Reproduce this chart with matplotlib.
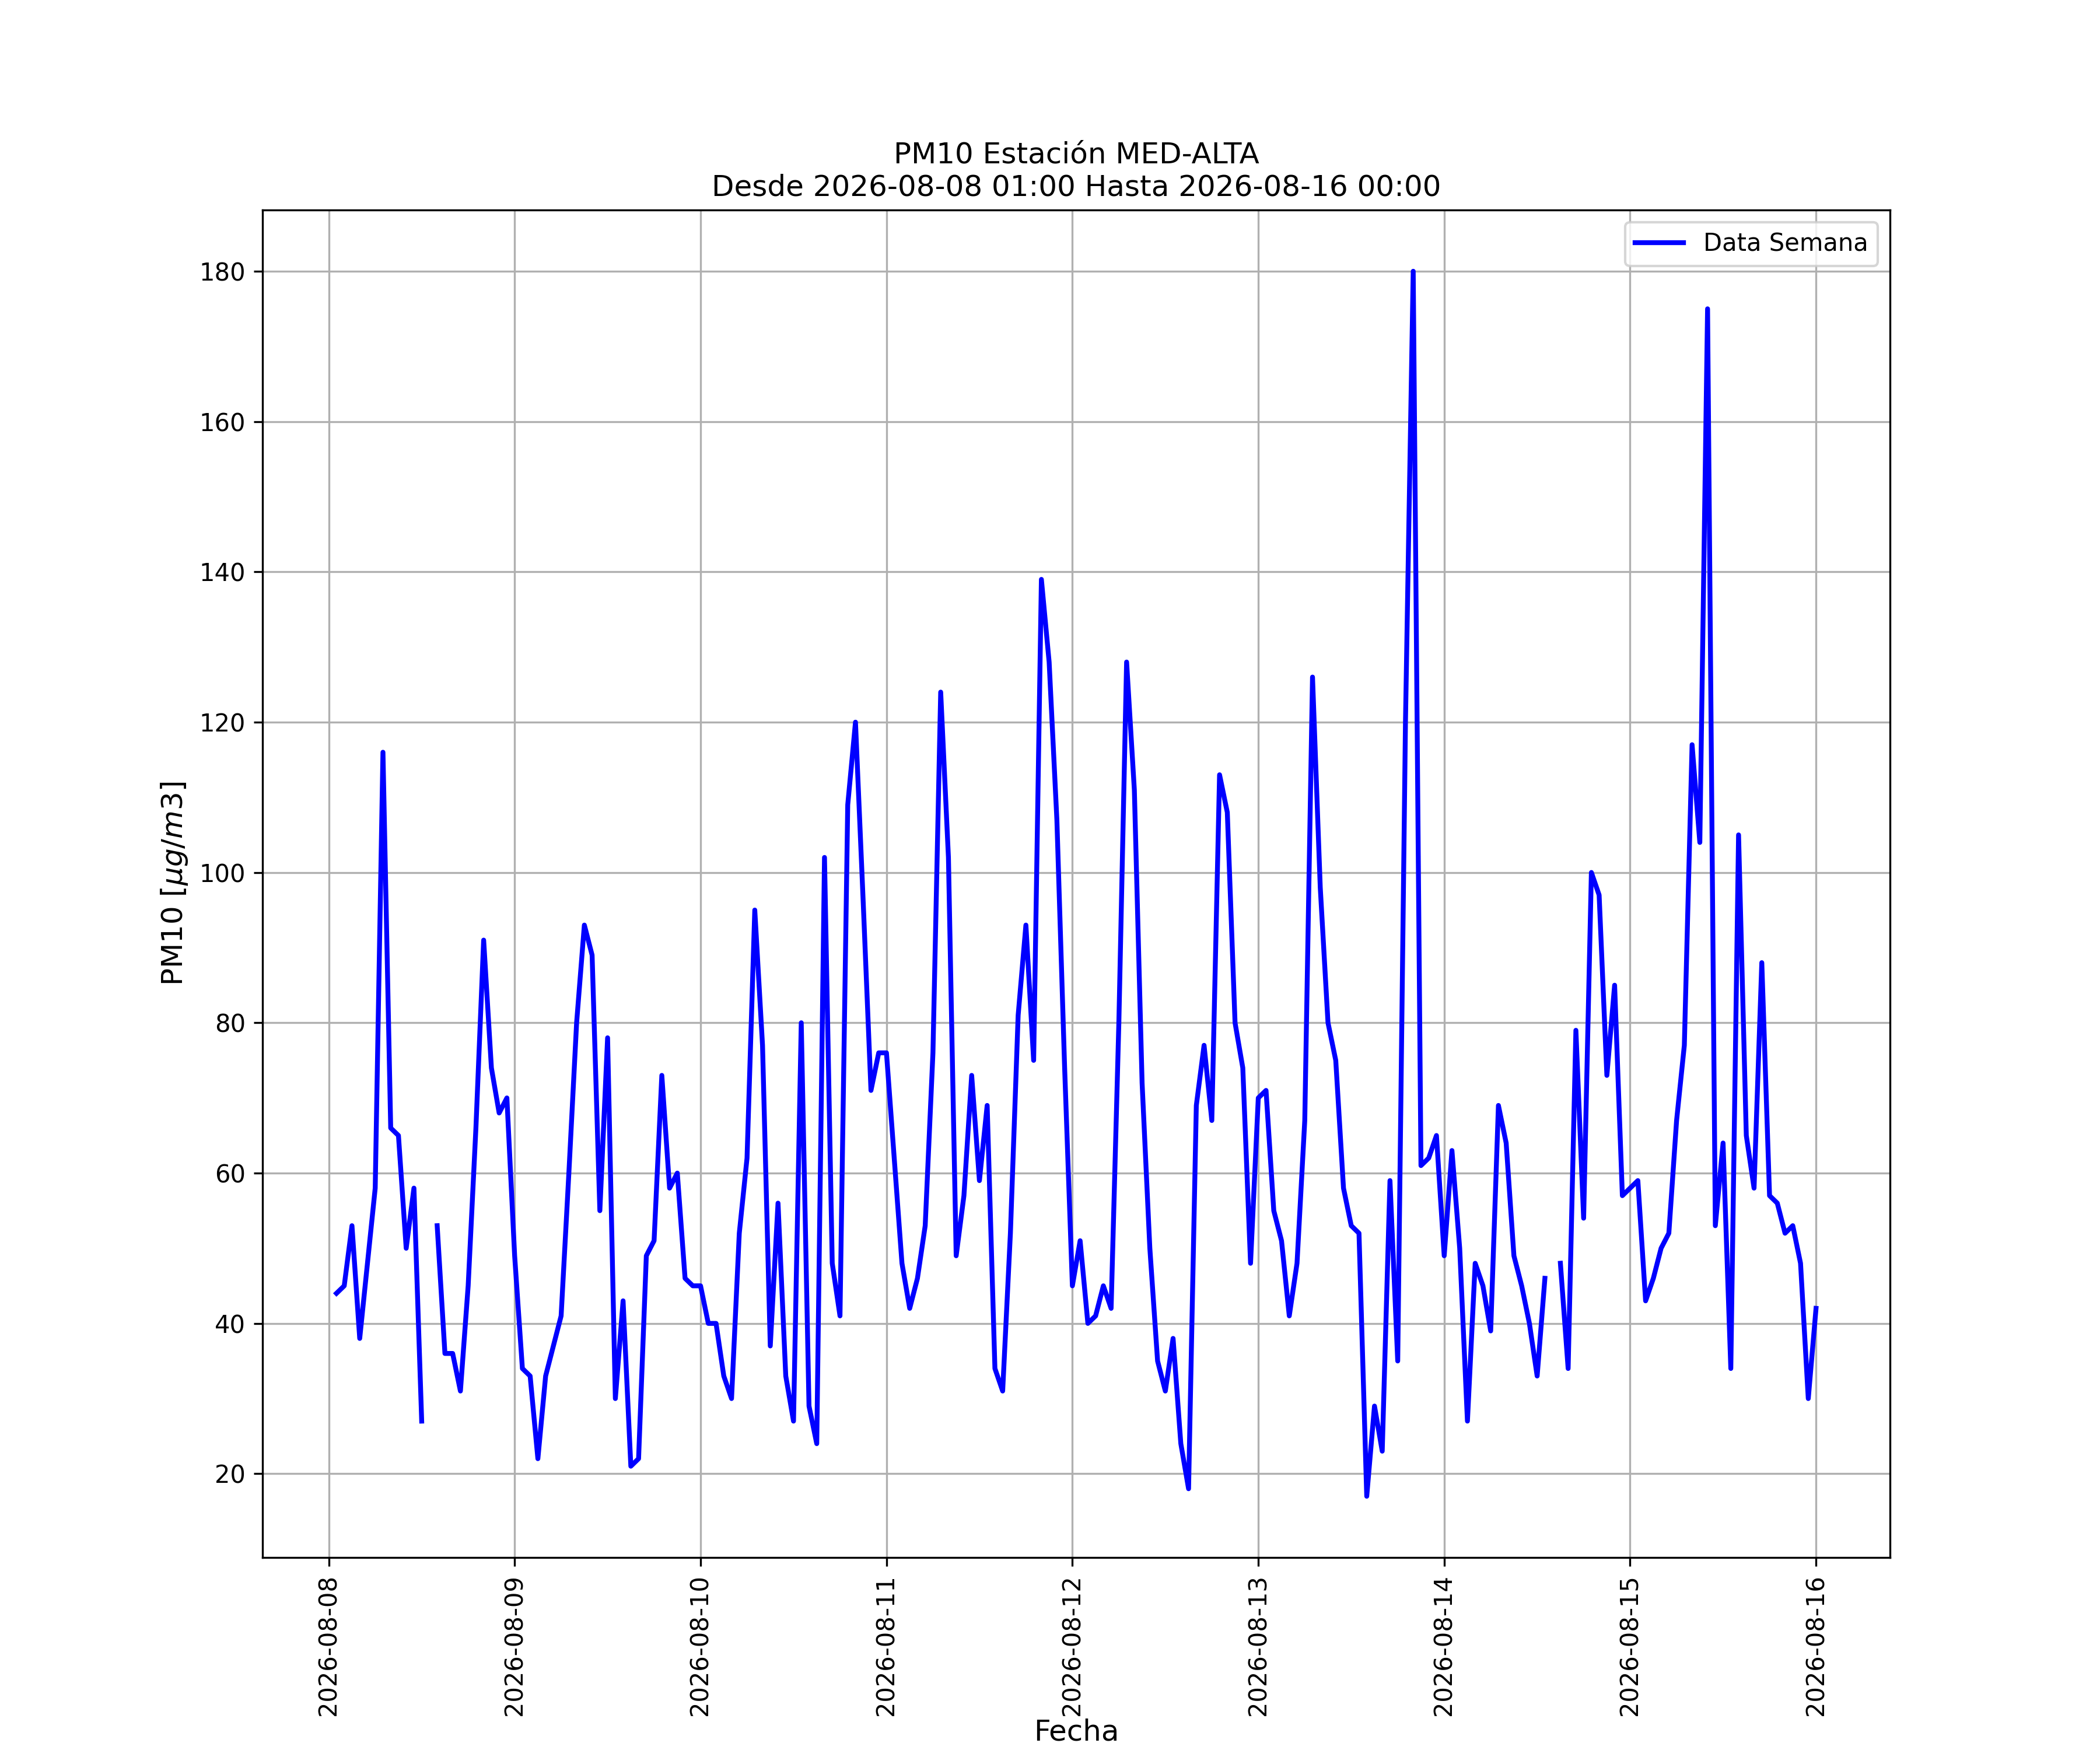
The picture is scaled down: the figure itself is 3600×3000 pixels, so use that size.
import matplotlib
matplotlib.use('Agg')
import matplotlib.pyplot as plt
import numpy as np
import pandas as pd

# Hourly PM10 values, 2026-08-08 01:00 .. 2026-08-16 00:00 (NaN = missing hour)
nan = np.nan
day_08 = [44, 45, 53, 38, 48, 58, 116, 66, 65, 50, 58, 27, nan, 53, 36, 36, 31, 45,
          66, 91, 74, 68, 70]  # starts at 01:00
day_09 = [49, 34, 33, 22, 33, 37, 41, 60, 80, 93, 89, 55, 78, 30, 43, 21, 22, 49,
          51, 73, 58, 60, 46, 45]
day_10 = [45, 40, 40, 33, 30, 52, 62, 95, 77, 37, 56, 33, 27, 80, 29, 24, 102, 48,
          41, 109, 120, 96, 71, 76]
day_11 = [76, 62, 48, 42, 46, 53, 76, 124, 102, 49, 57, 73, 59, 69, 34, 31, 52, 81,
          93, 75, 139, 128, 107, 74]
day_12 = [45, 51, 40, 41, 45, 42, 80, 128, 111, 72, 50, 35, 31, 38, 24, 18, 69, 77,
          67, 113, 108, 80, 74, 48]
day_13 = [70, 71, 55, 51, 41, 48, 67, 126, 98, 80, 75, 58, 53, 52, 17, 29, 23, 59,
          35, 120, 180, 61, 62, 65]
day_14 = [49, 63, 50, 27, 48, 45, 39, 69, 64, 49, 45, 40, 33, 46, nan, 48, 34, 79,
          54, 100, 97, 73, 85, 57]
day_15 = [58, 59, 43, 46, 50, 52, 67, 77, 117, 104, 175, 53, 64, 34, 105, 65, 58, 88,
          57, 56, 52, 53, 48, 30]
day_16 = [42]  # 00:00

pm10 = day_08 + day_09 + day_10 + day_11 + day_12 + day_13 + day_14 + day_15 + day_16
fechas = pd.date_range('2026-08-08 01:00', '2026-08-16 00:00', freq='h')

fig = plt.figure(figsize=(12, 10))
ax = fig.add_subplot(111)

ax.plot(fechas, pm10, color='blue', linewidth=2, label='Data Semana')

ax.set_title('PM10 Estación MED-ALTA\nDesde 2026-08-08 01:00 Hasta 2026-08-16 00:00')
ax.set_xlabel('Fecha', fontsize=12, labelpad=1)  # keep inside the bottom edge
ax.set_ylabel(r'PM10 [$\mu g/m3$]', fontsize=12)
ax.grid(True)
ax.legend(loc='upper right')
plt.xticks(rotation=90)

plt.savefig('out.png', dpi=300)
plt.close()
